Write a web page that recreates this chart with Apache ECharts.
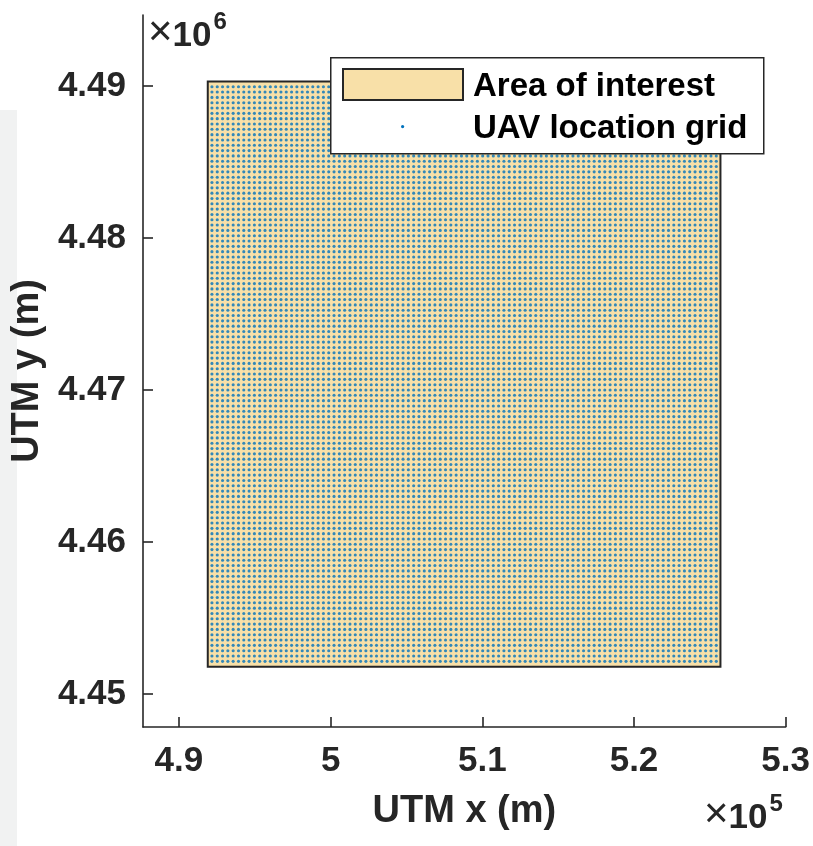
<!DOCTYPE html>
<html>
<head>
<meta charset="utf-8">
<script src="https://cdn.jsdelivr.net/npm/echarts@6/dist/echarts.min.js"></script>
<style>
  html, body { margin: 0; padding: 0; background: #ffffff; }
  #chart { width: 813px; height: 846px; }
</style>
</head>
<body>
<div id="chart"></div>
<script>
// Area of interest corners (UTM metres)
const areaX = [491900, 525700];
const areaY = [4451800, 4490300];

// UAV location grid: first node, spacing and node count along each axis (UTM metres)
const gridOriginX = 492175;
const gridOriginY = 4452150;
const gridStep = 350;
const gridCountX = 96;
const gridCountY = 109;

// Axis ranges and tick positions
const xRange = [487630, 530000];
const yRange = [4447830, 4494670];
const xTicks = [490000, 500000, 510000, 520000, 530000];
const yTicks = [4450000, 4460000, 4470000, 4480000, 4490000];

const seriesNames = ['Area of interest', 'UAV location grid'];

const areaCorners = [
  [areaX[0], areaY[0]], [areaX[1], areaY[0]],
  [areaX[1], areaY[1]], [areaX[0], areaY[1]]
];

const gridPoints = [];
for (let i = 0; i < gridCountX; i++) {
  for (let j = 0; j < gridCountY; j++) {
    gridPoints.push([gridOriginX + i * gridStep, gridOriginY + j * gridStep]);
  }
}

const ink = '#262626';
const font = '"Liberation Sans", Arial, Helvetica, sans-serif';
const areaFill = '#F8E0A8';
const dotColor = '#0072BD';

const fmt = (v, p) => String(parseFloat((v / Math.pow(10, p)).toFixed(2)));

// "×10^n" exponent label
const exponentText = (n) => ({
  text: '{a|×}{b|10}{c|' + n + '}',
  rich: {
    a: { fontFamily: font, fontSize: 42, fill: ink, verticalAlign: 'bottom', lineHeight: 44 },
    b: { fontFamily: font, fontWeight: 'bold', fontSize: 35, fill: ink, verticalAlign: 'bottom', lineHeight: 44 },
    c: { fontFamily: font, fontWeight: 'bold', fontSize: 24, fill: ink, verticalAlign: 'top', lineHeight: 44, padding: [0, 0, 18, 2] }
  }
});

const chart = echarts.init(document.getElementById('chart'), null, { renderer: 'canvas' });

chart.setOption({
  animation: false,
  backgroundColor: '#ffffff',
  grid: { left: 143, right: 26, top: 15, bottom: 119, containLabel: false },
  xAxis: {
    type: 'value',
    min: xRange[0], max: xRange[1],
    name: 'UTM x (m)',
    nameLocation: 'middle',
    nameGap: 66,
    nameTextStyle: { fontFamily: font, fontWeight: 'bold', fontSize: 38, color: ink },
    axisLine: { show: true, onZero: false, lineStyle: { color: ink, width: 1.6 } },
    axisTick: { show: true, inside: true, length: 10, customValues: xTicks, lineStyle: { color: ink, width: 1.6 } },
    axisLabel: {
      customValues: xTicks, margin: 17,
      formatter: v => fmt(v, 5),
      fontFamily: font, fontWeight: 'bold', fontSize: 35, color: ink
    },
    splitLine: { show: false }
  },
  yAxis: {
    type: 'value',
    min: yRange[0], max: yRange[1],
    name: 'UTM y (m)',
    nameLocation: 'middle',
    nameGap: 79,
    nameRotate: 90,
    nameTextStyle: { fontFamily: font, fontWeight: 'bold', fontSize: 38, color: ink },
    axisLine: { show: true, onZero: false, lineStyle: { color: ink, width: 1.6 } },
    axisTick: { show: true, inside: true, length: 10, customValues: yTicks, lineStyle: { color: ink, width: 1.6 } },
    axisLabel: {
      customValues: yTicks, margin: 17,
      formatter: v => fmt(v, 6),
      fontFamily: font, fontWeight: 'bold', fontSize: 35, color: ink
    },
    splitLine: { show: false }
  },
  series: [
    {
      name: seriesNames[0],
      type: 'custom',
      data: [0],
      z: 1,
      renderItem: (params, api) => {
        const pts = areaCorners.map(c => api.coord(c));
        return {
          type: 'polygon',
          shape: { points: pts },
          style: { fill: areaFill, stroke: ink, lineWidth: 2 }
        };
      }
    },
    {
      name: seriesNames[1],
      type: 'scatter',
      data: gridPoints,
      symbol: 'circle',
      symbolSize: 3.1,
      z: 2,
      progressive: 0,
      itemStyle: { color: dotColor },
      silent: true
    }
  ],
  graphic: [
    // light edge band on the left
    { type: 'rect', left: 0, top: 110, z: -10, shape: { width: 17, height: 736 }, style: { fill: '#F1F2F2' } },
    // axis exponents
    { type: 'text', left: 148, top: 10, z: 10, style: exponentText(6) },
    { type: 'text', left: 704, top: 792, z: 10, style: exponentText(5) },
    // legend, kept on its own layer above the plotted marks
    { type: 'rect', left: 330, top: 57, zlevel: 1, z: 100, shape: { width: 433, height: 96 }, style: { fill: '#ffffff', stroke: ink, lineWidth: 1.5 } },
    { type: 'rect', left: 342, top: 68, zlevel: 1, z: 101, shape: { width: 120, height: 31 }, style: { fill: areaFill, stroke: ink, lineWidth: 2 } },
    { type: 'text', left: 473, top: 70, zlevel: 1, z: 101, style: { text: seriesNames[0], fontFamily: font, fontWeight: 'bold', fontSize: 33, fill: '#000000' } },
    { type: 'circle', left: 401, top: 125, zlevel: 1, z: 101, shape: { r: 1.6 }, style: { fill: dotColor } },
    { type: 'text', left: 473, top: 112, zlevel: 1, z: 101, style: { text: seriesNames[1], fontFamily: font, fontWeight: 'bold', fontSize: 33, fill: '#000000' } }
  ]
});
</script>
</body>
</html>
